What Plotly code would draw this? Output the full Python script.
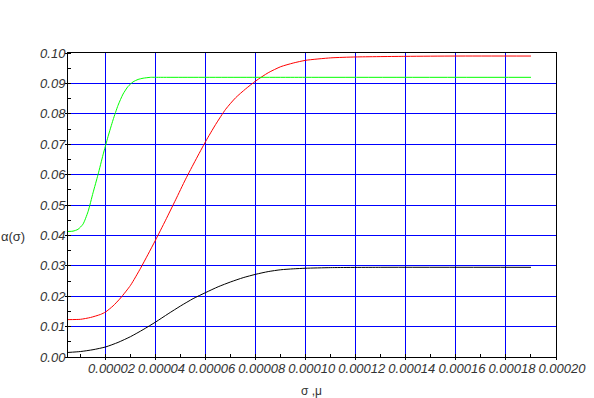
import plotly.graph_objects as go

# Green curve
green_x = [5e-6, 7e-6, 9e-6, 1.1e-5, 1.3e-5, 1.5e-5, 1.7e-5, 1.9e-5, 2.1e-5, 2.3e-5,
           2.5e-5, 2.7e-5, 2.9e-5, 3.1e-5, 3.3e-5, 3.5e-5, 3.8e-5, 4.0e-5, 1.0e-4, 1.9e-4]
green_y = [0.0413, 0.0414, 0.0420, 0.0437, 0.0478, 0.0540, 0.0600, 0.0665, 0.0725, 0.0780,
           0.0828, 0.0865, 0.0890, 0.0905, 0.0913, 0.0917, 0.0920, 0.0920, 0.0920, 0.0920]

# Red curve
red_x = [5e-6, 1e-5, 1.4e-5, 1.8e-5, 2e-5, 2.3e-5, 2.6e-5, 3e-5, 3.4e-5, 3.7e-5, 4e-5,
         4.4e-5, 4.8e-5, 5.2e-5, 5.6e-5, 6e-5, 6.4e-5, 6.8e-5, 7.2e-5, 7.6e-5, 8e-5,
         8.5e-5, 9e-5, 9.5e-5, 1e-4, 1.1e-4, 1.2e-4, 1.4e-4, 1.6e-4, 1.9e-4]
red_y = [0.0123, 0.0124, 0.0130, 0.0140, 0.0148, 0.0168, 0.0194, 0.0236, 0.0292, 0.0338, 0.0385,
         0.0450, 0.0517, 0.0585, 0.0648, 0.0709, 0.0765, 0.0815, 0.0853, 0.0882, 0.0908,
         0.0935, 0.0955, 0.0967, 0.0976, 0.0984, 0.0987, 0.0989, 0.0990, 0.0990]

# Black curve
black_x = [5e-6, 1e-5, 1.5e-5, 2e-5, 2.5e-5, 3e-5, 3.5e-5, 4e-5, 4.5e-5, 5e-5, 5.5e-5,
           6e-5, 6.5e-5, 7e-5, 7.5e-5, 8e-5, 8.5e-5, 9e-5, 9.5e-5, 1e-4, 1.1e-4, 1.3e-4, 1.9e-4]
black_y = [0.0015, 0.0018, 0.0024, 0.0033, 0.0048, 0.0067, 0.0090, 0.0115, 0.0142, 0.0168, 0.0192,
           0.0212, 0.0231, 0.0247, 0.0261, 0.0272, 0.0281, 0.0287, 0.0290, 0.0292, 0.0294, 0.0295, 0.0295]

x_label = "σ ,μ"
y_label = "α(σ)"

fig = go.Figure()
for xs, ys, col in [(black_x, black_y, "#000000"), (red_x, red_y, "#ff0000"), (green_x, green_y, "#00ff00")]:
    fig.add_trace(go.Scatter(x=xs, y=ys, mode="lines",
                             line=dict(color=col, width=1, shape="spline", smoothing=0.6),
                             showlegend=False, hoverinfo="skip"))

tickfont = dict(family="Liberation Sans, Arial", size=13, color="#333333", style="italic")

fig.update_layout(
    width=594, height=398,
    margin=dict(l=68, r=38, t=53, b=41, autoexpand=False),
    paper_bgcolor="white", plot_bgcolor="white",
    xaxis=dict(
        range=[5e-6, 2.00001e-4],
        tickmode="linear", tick0=0, dtick=2e-5, tickformat=".5f",
        showgrid=True, gridcolor="#0000ff", gridwidth=1,
        showline=True, linecolor="black", linewidth=1, mirror=True,
        ticks="outside", ticklen=2, tickcolor="black",
        tickfont=tickfont, ticklabelshift=6, ticklabelstandoff=-3,
        zeroline=False, automargin=False,
        minor=dict(tickmode="linear", tick0=0, dtick=1e-5, ticks="inside", ticklen=3,
                   tickcolor="black", showgrid=False),
    ),
    yaxis=dict(
        range=[0, 0.1],
        tickmode="linear", tick0=0, dtick=0.01, tickformat=".2f",
        showgrid=True, gridcolor="#0000ff", gridwidth=1,
        showline=True, linecolor="black", linewidth=1, mirror=True,
        ticks="outside", ticklen=2, tickcolor="black",
        tickfont=tickfont, ticklabelstandoff=-3,
        zeroline=False, automargin=False,
        minor=dict(tickmode="linear", tick0=0, dtick=0.005, ticks="inside", ticklen=3,
                   tickcolor="black", showgrid=False),
    ),
    annotations=[
        dict(text=y_label, xref="paper", yref="paper", x=-0.1127, y=0.395,
             xanchor="center", yanchor="middle",
             showarrow=False, font=dict(family="Liberation Sans, Arial", size=13, color="#333333")),
        dict(text=x_label, xref="paper", yref="paper", x=0.498, y=-0.112,
             xanchor="center", yanchor="middle",
             showarrow=False, font=dict(family="Liberation Sans, Arial", size=12, color="#333333")),
    ],
)

fig.write_html("out.html", config={"displayModeBar": False},
               post_script="document.body.style.margin='0px';")
